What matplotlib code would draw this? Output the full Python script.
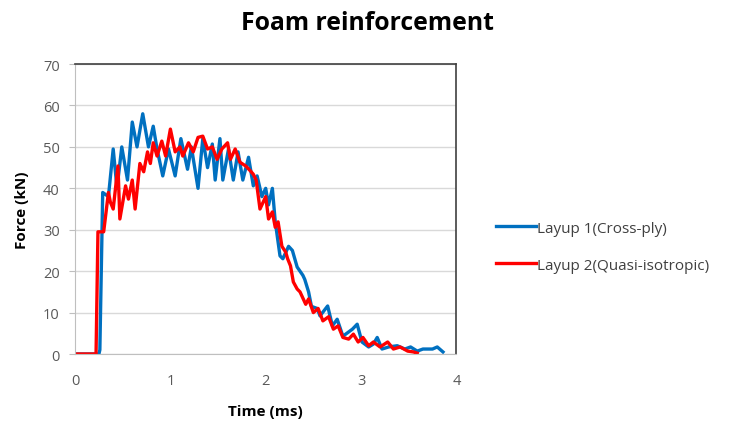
import matplotlib
matplotlib.use("Agg")
import matplotlib.pyplot as plt

plt.rcParams['font.family'] = ['Open Sans', 'DejaVu Sans']

# Layup 1 (cross-ply): time in ms, force in kN
t_cross = [0.00, 0.25, 0.26, 0.29, 0.35, 0.40, 0.44, 0.49, 0.55, 0.60,
           0.65, 0.71, 0.77, 0.82, 0.86, 0.92, 0.98, 1.05, 1.11, 1.18,
           1.22, 1.29, 1.34, 1.39, 1.44, 1.47, 1.52, 1.55, 1.61, 1.66,
           1.71, 1.76, 1.82, 1.87, 1.91, 1.96, 2.00, 2.03, 2.07, 2.10,
           2.15, 2.18, 2.24, 2.28, 2.33, 2.39, 2.41, 2.45, 2.48, 2.54,
           2.57, 2.65, 2.70, 2.75, 2.81, 2.91, 2.96, 3.01, 3.08, 3.13,
           3.17, 3.22, 3.29, 3.38, 3.46, 3.52, 3.59, 3.65, 3.75, 3.80,
           3.86]
f_cross = [0.0, 0.0, 1.0, 39.0, 38.0, 49.5, 40.0, 50.0, 42.0, 56.0,
           50.0, 58.0, 50.0, 55.0, 49.5, 43.0, 49.5, 43.0, 52.0, 44.6,
           50.0, 40.0, 52.0, 45.0, 50.7, 42.0, 52.0, 42.0, 49.5, 42.0,
           48.8, 42.0, 47.5, 40.6, 43.0, 38.0, 40.0, 36.0, 40.0, 32.0,
           23.7, 23.0, 26.0, 25.0, 21.0, 19.0, 18.0, 15.0, 11.5, 11.0,
           9.2, 11.6, 6.8, 8.4, 4.3, 6.0, 7.2, 2.9, 1.7, 2.4,
           4.0, 1.2, 1.7, 2.0, 1.2, 1.7, 0.7, 1.2, 1.2, 1.7,
           0.5]

# Layup 2 (quasi-isotropic)
t_quasi = [0.00, 0.22, 0.24, 0.30, 0.35, 0.37, 0.40, 0.45, 0.47, 0.53,
           0.56, 0.60, 0.63, 0.68, 0.72, 0.76, 0.79, 0.82, 0.86, 0.91,
           0.95, 1.00, 1.05, 1.10, 1.13, 1.19, 1.24, 1.29, 1.34, 1.39,
           1.44, 1.49, 1.54, 1.60, 1.63, 1.68, 1.73, 1.79, 1.84, 1.87,
           1.90, 1.94, 2.00, 2.03, 2.07, 2.10, 2.13, 2.17, 2.21, 2.23,
           2.26, 2.29, 2.33, 2.36, 2.42, 2.45, 2.50, 2.55, 2.60, 2.66,
           2.71, 2.76, 2.81, 2.87, 2.92, 2.97, 3.02, 3.08, 3.13, 3.20,
           3.28, 3.34, 3.41, 3.49, 3.55, 3.59]
f_quasi = [0.0, 0.0, 29.5, 29.5, 39.0, 36.7, 35.0, 45.4, 32.6, 40.6,
           37.4, 42.0, 35.0, 46.0, 44.0, 48.8, 46.0, 51.0, 47.8, 51.4,
           47.8, 54.3, 48.8, 50.0, 47.8, 51.0, 48.8, 52.3, 52.6, 49.5,
           50.0, 47.0, 49.5, 51.0, 47.0, 49.5, 46.3, 45.4, 44.2, 43.4,
           42.0, 35.0, 38.0, 32.6, 34.3, 30.6, 31.9, 26.0, 24.6, 23.0,
           21.3, 17.4, 15.7, 15.0, 12.0, 13.3, 10.0, 11.0, 8.0, 9.0,
           6.0, 6.8, 4.0, 3.6, 4.8, 2.9, 4.0, 2.0, 2.9, 1.7,
           2.9, 1.2, 1.7, 0.7, 0.5, 0.2]

x_ticks = [0, 1, 2, 3, 4]
y_ticks = [0, 10, 20, 30, 40, 50, 60, 70]

fig = plt.figure(figsize=(7.36, 4.27), dpi=100)
ax = fig.add_axes([0.102, 0.1686, 0.518, 0.679])

ax.plot(t_cross, f_cross, color='#0070C0', lw=2.4, label='Layup 1(Cross-ply)')
ax.plot(t_quasi, f_quasi, color='#FF0000', lw=2.4, label='Layup 2(Quasi-isotropic)')

ax.set_xlim(0, 4)
ax.set_ylim(0, 70)
ax.set_xticks(x_ticks)
ax.set_yticks(y_ticks)
ax.yaxis.grid(True, color='#D9D9D9', lw=1)
ax.set_axisbelow(True)

for side in ['left', 'bottom']:
    ax.spines[side].set_color('#BFBFBF')
for side in ['top', 'right']:
    ax.spines[side].set_color('#404040')
    ax.spines[side].set_linewidth(1.2)

ax.tick_params(axis='both', colors='#595959', labelsize=10.5, length=0, pad=14)
ax.tick_params(axis='y', length=4, color='#BFBFBF', direction='out', pad=7)

ax.set_xlabel('Time (ms)', fontsize=11, fontweight='bold', labelpad=11)
ax.set_ylabel('Force (kN)', fontsize=11, fontweight='bold', labelpad=10)

fig.text(0.499, 0.945, 'Foam reinforcement', ha='center', va='center',
         fontsize=17.8, fontweight='bold')

fig.legend(loc='center left', bbox_to_anchor=(0.655, 0.42), frameon=False,
           fontsize=11, handlelength=2.6, handletextpad=0.1, labelspacing=1.45,
           labelcolor='#404040')

fig.savefig('out.png', dpi=100, facecolor='white')
